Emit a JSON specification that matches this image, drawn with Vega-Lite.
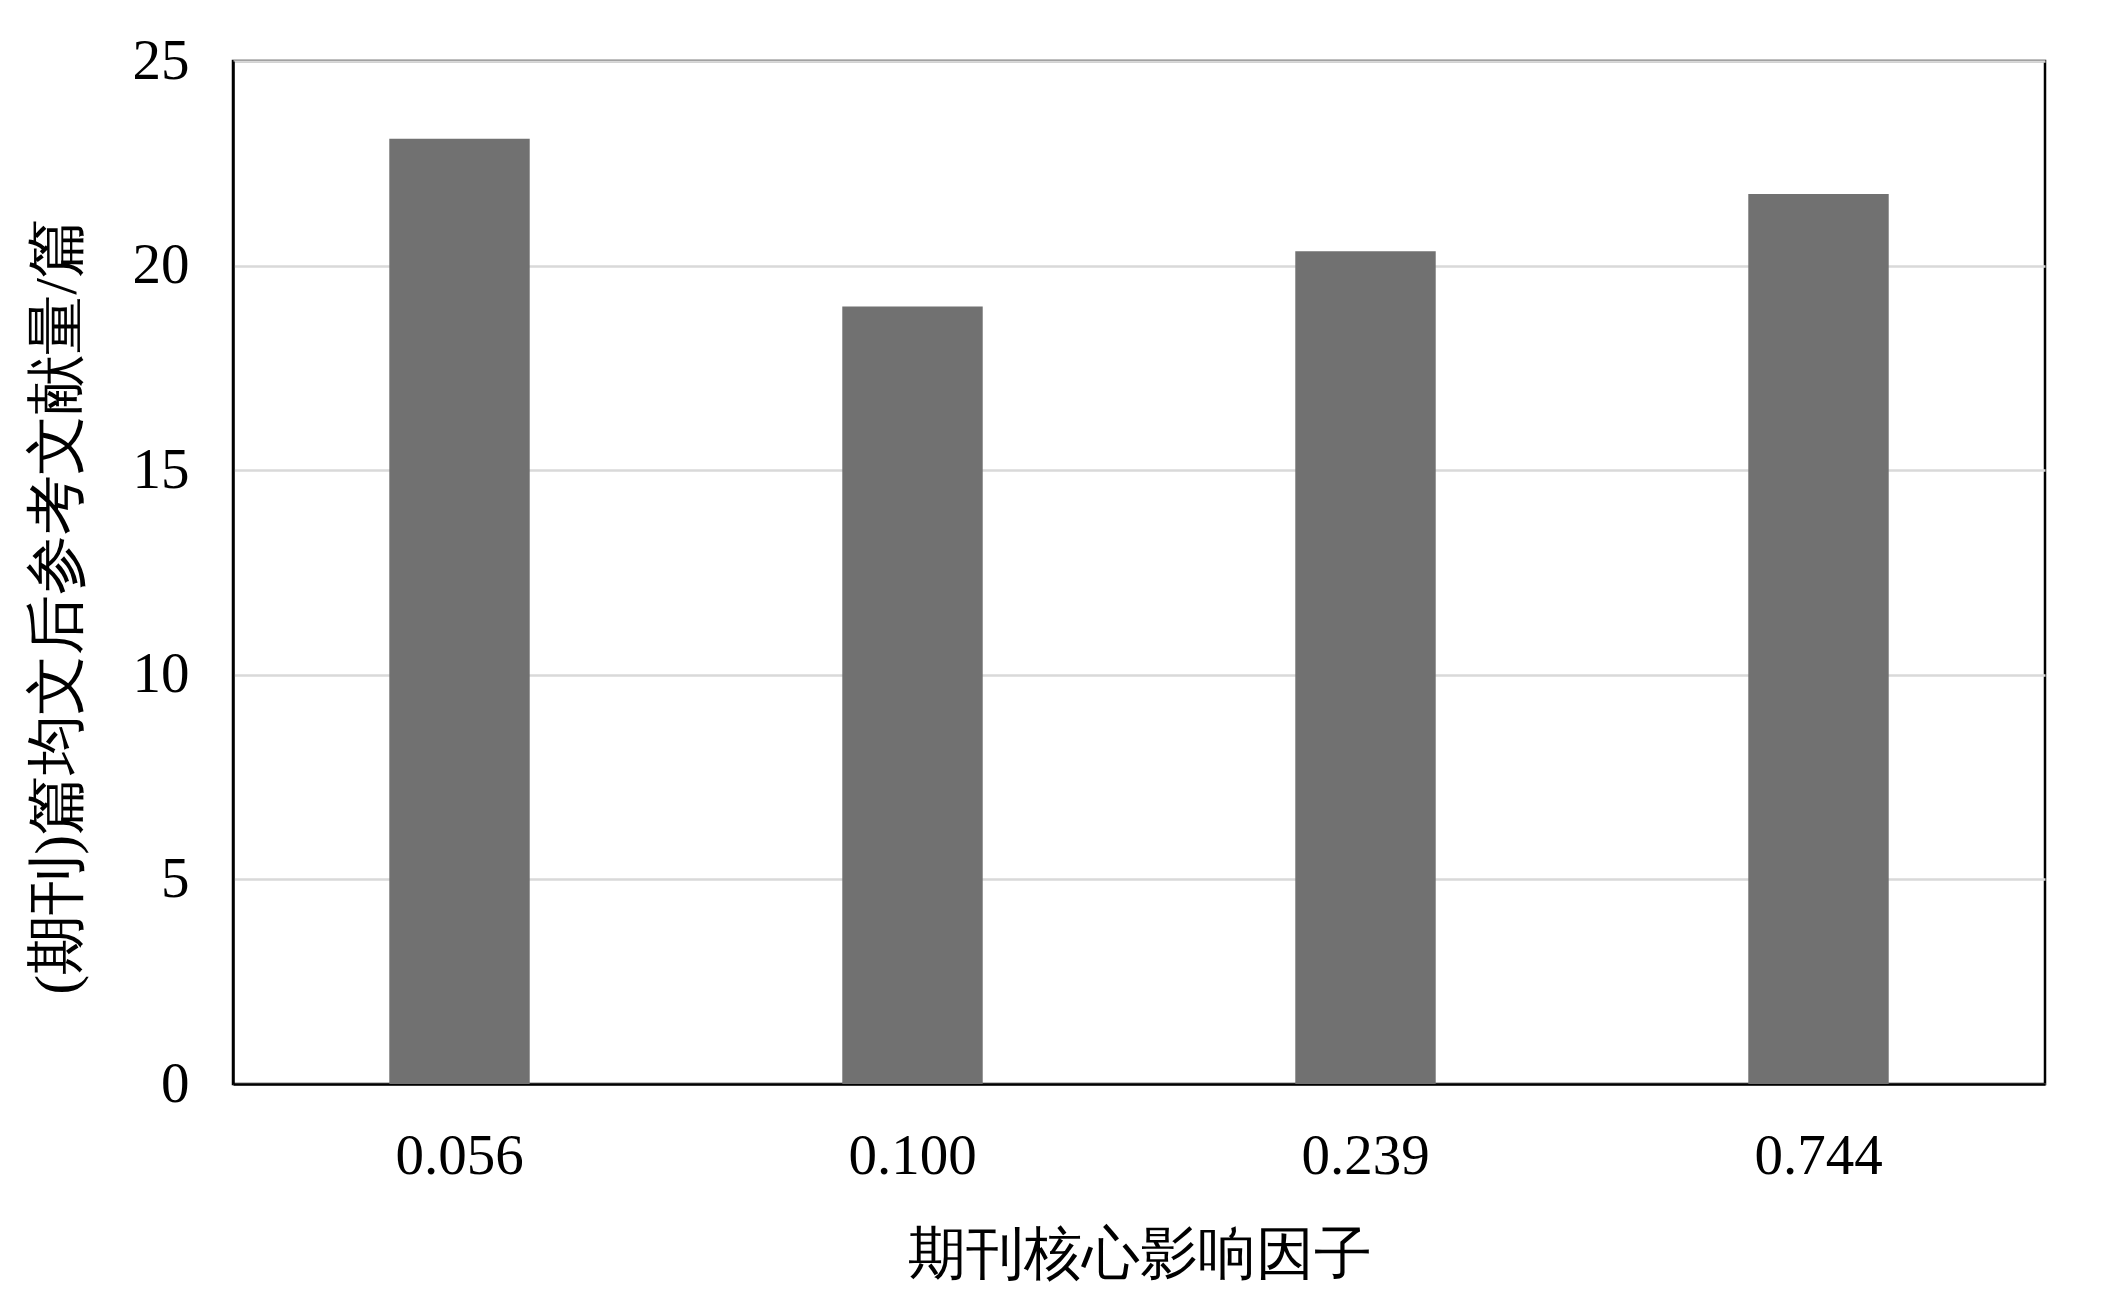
{
  "$schema": "https://vega.github.io/schema/vega-lite/v6.json",
  "width": 1812,
  "height": 1023,
  "autosize": {"type": "none"},
  "padding": {"left": 233, "top": 61, "right": 67, "bottom": 215},
  "background": "white",
  "config": {
    "view": {"stroke": "black", "strokeWidth": 2.5},
    "font": "Liberation Serif"
  },
  "data": {
    "values": [
      {"factor": "0.056", "refs": 23.1},
      {"factor": "0.100", "refs": 19.0},
      {"factor": "0.239", "refs": 20.35},
      {"factor": "0.744", "refs": 21.75}
    ]
  },
  "mark": {"type": "bar", "color": "#717171"},
  "encoding": {
    "x": {
      "field": "factor",
      "type": "nominal",
      "sort": null,
      "scale": {"paddingInner": 0.69, "paddingOuter": 0.345},
      "axis": {
        "title": "期刊核心影响因子",
        "labelAngle": 0,
        "labelFont": "Liberation Serif",
        "labelFontSize": 57,
        "labelColor": "black",
        "labelPadding": 44,
        "ticks": false,
        "domainColor": "black",
        "domainWidth": 2.5,
        "titleFont": "Liberation Serif",
        "titleFontSize": 58,
        "titleFontWeight": "normal",
        "titleColor": "black",
        "titlePadding": 42
      }
    },
    "y": {
      "field": "refs",
      "type": "quantitative",
      "scale": {"domain": [0, 25]},
      "axis": {
        "title": "(期刊)篇均文后参考文献量/篇",
        "values": [0, 5, 10, 15, 20, 25],
        "labelFont": "Liberation Serif",
        "labelFontSize": 57,
        "labelColor": "black",
        "labelPadding": 44,
        "ticks": false,
        "domainColor": "black",
        "domainWidth": 2.5,
        "grid": true,
        "gridColor": "#d9d9d9",
        "gridWidth": 2.5,
        "titleFont": "Liberation Serif",
        "titleFontSize": 60,
        "titleFontWeight": "normal",
        "titleColor": "black",
        "titlePadding": 44,
        "titleY": 545
      }
    }
  }
}
